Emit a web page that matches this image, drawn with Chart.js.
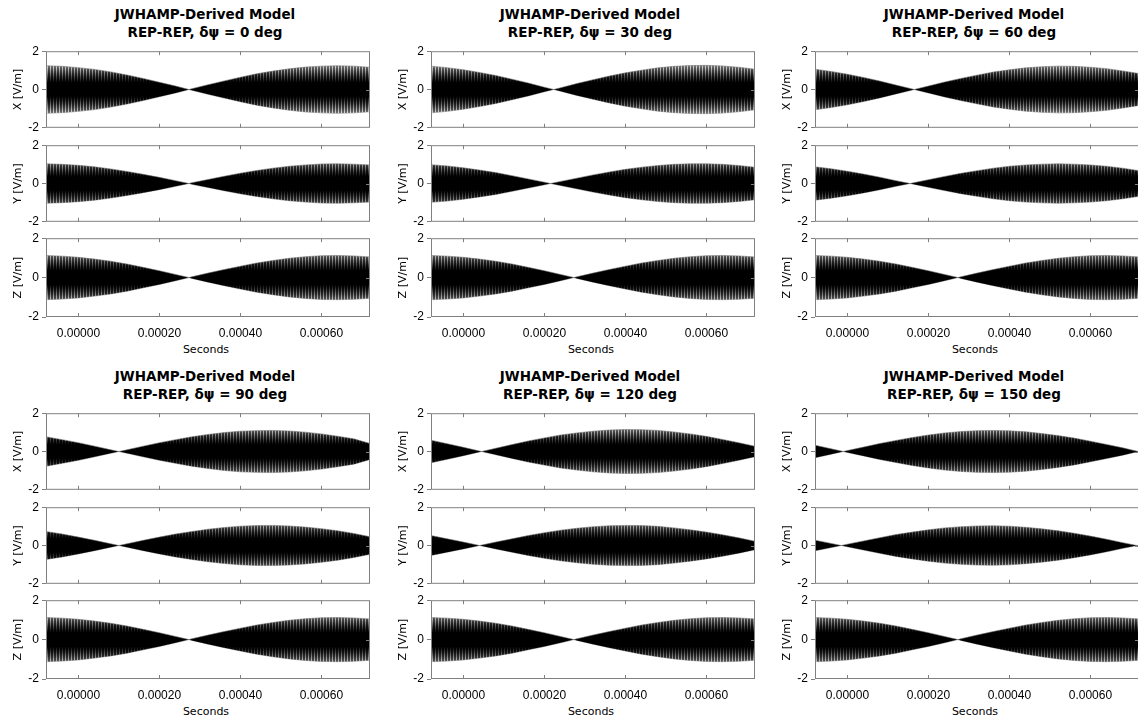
<!DOCTYPE html>
<html><head><meta charset="utf-8">
<script src="https://cdn.jsdelivr.net/npm/chart.js@4.4.1/dist/chart.umd.min.js"></script>
<style>
html,body{margin:0;padding:0;background:#fff;width:1138px;height:723px;overflow:hidden;position:relative;font-family:"DejaVu Sans",sans-serif}
canvas{position:absolute}
.t{position:absolute;width:340px;text-align:center;font-weight:bold;font-size:13.5px;color:#000;white-space:nowrap;line-height:18px}
.s{position:absolute;width:200px;text-align:center;font-size:11px;color:#000;line-height:14px}
</style></head><body>
<script>
// ---- data ----
const timeGrid = [-0.00008,-0.00004,0.00000,0.00004,0.00008,0.00012,0.00016,0.00020,0.00024,0.00028,0.00032,
                  0.00036,0.00040,0.00044,0.00048,0.00052,0.00056,0.00060,0.00064,0.00068,0.00072];
const phaseLabels = ['0','30','60','90','120','150'];
const componentLabels = ['X [V/m]','Y [V/m]','Z [V/m]'];
const xTickValues = [0, 0.0002, 0.0004, 0.0006];
const yTickValues = [-2, 0, 2];
const xRange = [-0.00008, 0.00072];

// envelope amplitude (|field| peak) on timeGrid
const xAmp0   = [1.24,1.21,1.14,1.05,0.92,0.76,0.58,0.38,0.18,0.04,0.25,0.45,0.64,0.82,0.96,1.08,1.17,1.22,1.24,1.22,1.16];
const yAmp0   = [1.03,1.00,0.95,0.87,0.76,0.63,0.48,0.32,0.15,0.04,0.21,0.38,0.54,0.68,0.80,0.90,0.97,1.02,1.03,1.01,0.97];
const xAmp30  = [1.22,1.14,1.03,0.89,0.73,0.54,0.34,0.12,0.09,0.31,0.51,0.70,0.87,1.01,1.13,1.21,1.25,1.26,1.23,1.16,1.06];
const yAmp30  = [0.98,0.92,0.82,0.70,0.57,0.41,0.24,0.07,0.11,0.28,0.45,0.60,0.74,0.85,0.94,1.00,1.03,1.03,1.00,0.94,0.85];
const xAmp60  = [1.06,0.94,0.80,0.63,0.44,0.23,0.03,0.18,0.39,0.58,0.75,0.91,1.03,1.13,1.19,1.22,1.21,1.16,1.09,0.97,0.83];
const yAmp60  = [0.87,0.77,0.64,0.49,0.33,0.15,0.02,0.20,0.37,0.53,0.67,0.80,0.90,0.97,1.01,1.03,1.01,0.97,0.90,0.80,0.67];
const xAmp90  = [0.77,0.62,0.46,0.28,0.09,0.09,0.28,0.46,0.62,0.77,0.89,0.99,1.06,1.09,1.10,1.07,1.01,0.92,0.80,0.66,0.42];
const yAmp90  = [0.73,0.60,0.44,0.27,0.09,0.09,0.27,0.44,0.60,0.73,0.85,0.94,1.01,1.04,1.05,1.02,0.96,0.88,0.77,0.63,0.46];
const xAmp120 = [0.59,0.41,0.22,0.02,0.17,0.36,0.55,0.71,0.86,0.97,1.06,1.12,1.15,1.14,1.10,1.02,0.92,0.79,0.63,0.46,0.27];
const yAmp120 = [0.52,0.35,0.18,0.00,0.18,0.35,0.52,0.67,0.80,0.90,0.98,1.03,1.05,1.04,1.00,0.92,0.82,0.70,0.56,0.40,0.22];
const xAmp150 = [0.33,0.14,0.05,0.23,0.42,0.58,0.73,0.86,0.97,1.04,1.09,1.10,1.08,1.03,0.94,0.83,0.70,0.54,0.37,0.19,0.02];
const yAmp150 = [0.28,0.11,0.07,0.24,0.41,0.57,0.70,0.82,0.92,0.98,1.02,1.03,1.01,0.95,0.87,0.77,0.64,0.49,0.33,0.15,0.02];
const zAmp    = [1.12,1.09,1.03,0.94,0.83,0.69,0.52,0.35,0.16,0.04,0.23,0.41,0.58,0.74,0.87,0.98,1.06,1.11,1.12,1.10,1.05];

// beat nodes (time where the envelope reaches zero)
const xNodes = [[0.000273],[0.000223],[0.000165],[0.000100],[0.000045],[-0.000010,0.000718]];
const yNodes = [[0.000273],[0.000215],[0.000155],[0.000100],[0.000040],[-0.000015,0.000715]];
const zNodes = [0.000273];

const xAmps = [xAmp0,xAmp30,xAmp60,xAmp90,xAmp120,xAmp150];
const yAmps = [yAmp0,yAmp30,yAmp60,yAmp90,yAmp120,yAmp150];

// ---- layout ----
const colLeft = [0, 385, 769];
const rowOffset = [0, 362];
const subTop = [49, 143, 236];
const plotW = 324, plotH = 81, axisW = 46;

function buildPts(amps, nodes, sign) {
  const pts = timeGrid.map((t, i) => ({x: t, y: sign * amps[i]}));
  nodes.forEach(n => pts.push({x: n, y: 0}));
  pts.sort((a, b) => a.x - b.x);
  return pts;
}

// carrier texture: dark core, lighter striped fringe toward larger |field|
function carrierPattern(chart) {
  if (chart.$pat && chart.$patH === chart.height) return chart.$pat;
  const ys = chart.scales.y;
  const h = chart.height;
  const pc = document.createElement('canvas');
  pc.width = 3; pc.height = h;
  const g = pc.getContext('2d');
  for (let py = 0; py < h; py++) {
    const a = Math.abs(ys.getValueForPixel(py + 0.5));
    const r = Math.max(0, Math.min(1, (a - 0.3) / 0.95));
    const s = Math.round(120 * r * r);
    const k = Math.max(0, Math.min(1, (a - 0.35) / 0.85));
    const w = Math.round(s + (255 - s) * 0.7 * k);
    g.fillStyle = `rgb(${s},${s},${s})`; g.fillRect(0, py, 2, 1);
    g.fillStyle = `rgb(${w},${w},${w})`; g.fillRect(2, py, 1, 1);
  }
  chart.$pat = chart.ctx.createPattern(pc, 'repeat');
  chart.$patH = h;
  return chart.$pat;
}

const framePlugin = {
  id: 'frame',
  afterDraw(chart) {
    const {ctx, chartArea: a, scales} = chart;
    ctx.save();
    ctx.strokeStyle = '#808080';
    ctx.lineWidth = 1;
    ctx.strokeRect(a.left + 0.5, a.top + 0.5, a.right - a.left - 1, a.bottom - a.top - 1);
    ctx.beginPath();
    xTickValues.forEach(v => {
      const px = Math.round(scales.x.getPixelForValue(v)) + 0.5;
      ctx.moveTo(px, a.top); ctx.lineTo(px, a.top + 4);
      ctx.moveTo(px, a.bottom); ctx.lineTo(px, a.bottom - 4);
    });
    const py0 = Math.round(scales.y.getPixelForValue(0)) + 0.5;
    ctx.moveTo(a.right, py0); ctx.lineTo(a.right - 4, py0);
    ctx.stroke();
    ctx.restore();
  }
};

function addText(cls, left, top, text) {
  const d = document.createElement('div');
  d.className = cls;
  d.style.left = left + 'px';
  d.style.top = top + 'px';
  d.textContent = text;
  document.body.appendChild(d);
}

for (let p = 0; p < 6; p++) {
  const c = p % 3, r = Math.floor(p / 3);
  const plotLeft = colLeft[c] + axisW;
  const cx = plotLeft + plotW / 2 - 3;
  addText('t', cx - 170, 5 + rowOffset[r], 'JWHAMP-Derived Model');
  addText('t', cx - 170, 23 + rowOffset[r], 'REP-REP, δψ = ' + phaseLabels[p] + ' deg');
  addText('s', plotLeft + plotW / 2 - 100 - 2, 343 + rowOffset[r], 'Seconds');

  const comps = [
    {amps: xAmps[p], nodes: xNodes[p]},
    {amps: yAmps[p], nodes: yNodes[p]},
    {amps: zAmp, nodes: zNodes}
  ];
  comps.forEach((comp, i) => {
    const isBottom = i === 2;
    const padTop = 8, padBot = isBottom ? 0 : 8, xH = isBottom ? 20 : 0;
    const cv = document.createElement('canvas');
    const W = axisW + plotW + 1, H = padTop + plotH + padBot + xH;
    cv.width = W; cv.height = H;
    cv.style.width = W + 'px'; cv.style.height = H + 'px';
    cv.style.left = colLeft[c] + 'px';
    cv.style.top = (subTop[i] + rowOffset[r] - padTop) + 'px';
    document.body.appendChild(cv);
    new Chart(cv, {
      type: 'line',
      data: {
        datasets: [
          {data: buildPts(comp.amps, comp.nodes, 1), fill: '+1', borderWidth: 1, pointRadius: 0, tension: 0,
           borderColor: 'rgba(110,110,110,0.55)',
           backgroundColor: (ctx) => ctx.chart.chartArea ? carrierPattern(ctx.chart) : '#000'},
          {data: buildPts(comp.amps, comp.nodes, -1), fill: false, borderWidth: 1, pointRadius: 0, tension: 0,
           borderColor: 'rgba(110,110,110,0.55)'}
        ]
      },
      options: {
        responsive: false, animation: false, events: [],
        layout: {padding: {top: padTop, bottom: padBot, left: 0, right: 1}},
        plugins: {legend: {display: false}, tooltip: {enabled: false}},
        scales: {
          x: {
            type: 'linear', min: xRange[0], max: xRange[1],
            afterBuildTicks: s => { s.ticks = xTickValues.map(v => ({value: v})); },
            afterFit: s => { s.height = xH; },
            grid: {display: false}, border: {display: false},
            ticks: {display: isBottom, font: {family: 'Liberation Sans', size: 12}, color: '#000', padding: 1,
                    maxRotation: 0, autoSkip: false, callback: v => Number(v).toFixed(5)}
          },
          y: {
            min: -2, max: 2,
            afterBuildTicks: s => { s.ticks = yTickValues.map(v => ({value: v})); },
            afterFit: s => { s.width = axisW; },
            grid: {drawOnChartArea: false, drawTicks: true, tickLength: 4, color: '#808080'},
            border: {display: false},
            ticks: {font: {family: 'Liberation Sans', size: 12}, color: '#000', padding: 3},
            title: {display: true, text: componentLabels[i], font: {family: 'DejaVu Sans', size: 11},
                    color: '#000', padding: {top: 12, bottom: 0}}
          }
        }
      },
      plugins: [framePlugin]
    });
  });
}
</script>
</body></html>
